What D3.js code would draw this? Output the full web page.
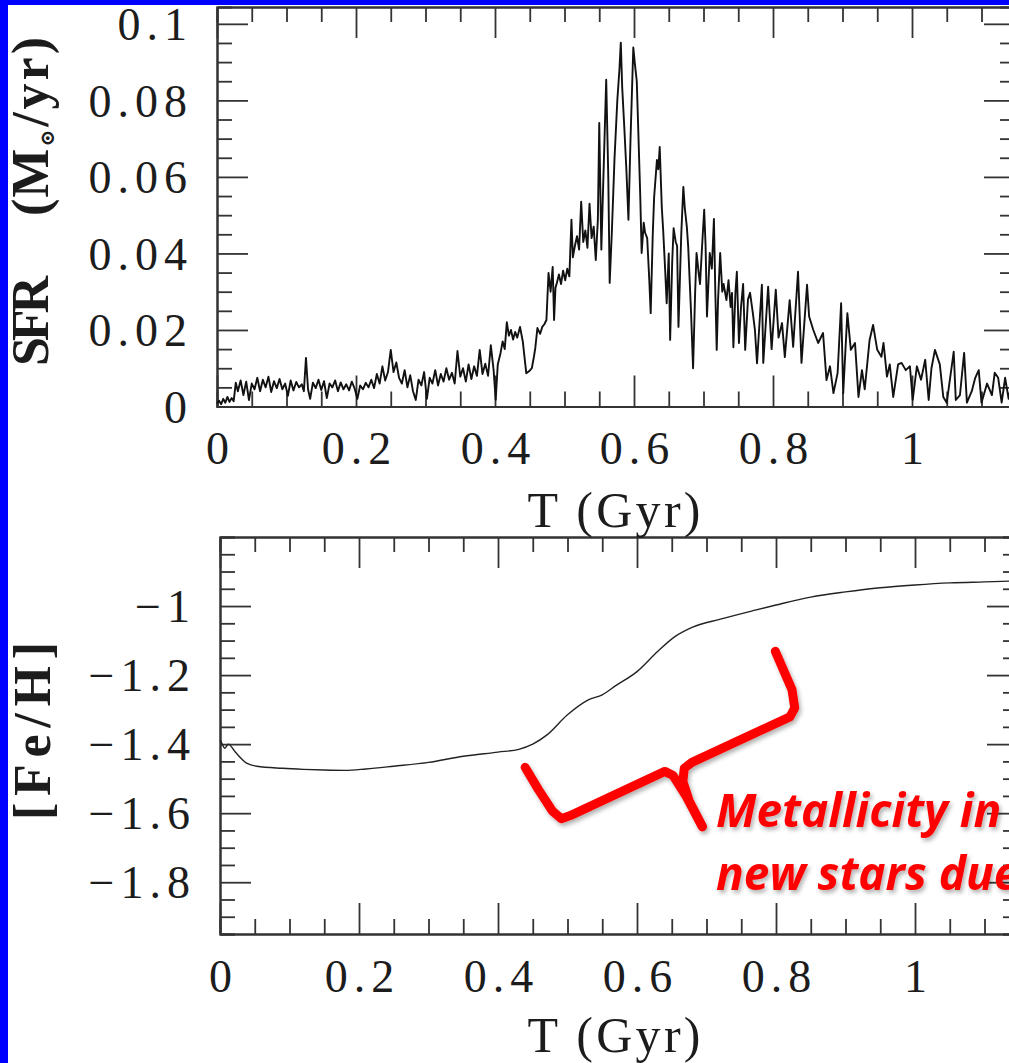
<!DOCTYPE html>
<html>
<head>
<meta charset="utf-8">
<script src="https://cdn.jsdelivr.net/npm/d3@7"></script>
<style>
  html, body { margin: 0; padding: 0; background: #fff; }
  svg { display: block; }
</style>
</head>
<body>
<div id="chart"></div>
<script>
// star formation rate, top panel (T in Gyr, SFR in Msun/yr)
const sfrTime = [
  0.000, 0.003, 0.006, 0.009, 0.012, 0.015, 0.018, 0.021, 0.024,
  0.027, 0.030, 0.034, 0.038, 0.042, 0.046, 0.050, 0.054, 0.058, 0.062, 0.066, 0.070, 0.074, 0.078,
  0.082, 0.086, 0.090, 0.094, 0.098, 0.102, 0.106, 0.110, 0.114, 0.118, 0.122, 0.125, 0.128, 0.131,
  0.134, 0.138, 0.142, 0.146, 0.150, 0.154, 0.158, 0.162, 0.166, 0.170, 0.174, 0.178, 0.182, 0.186,
  0.190, 0.194, 0.198, 0.202, 0.206, 0.210, 0.214, 0.218, 0.222, 0.226, 0.230, 0.234, 0.238, 0.242,
  0.246, 0.250, 0.254, 0.258, 0.262,
  0.266, 0.270, 0.274, 0.278, 0.282, 0.286, 0.290, 0.294, 0.298, 0.302, 0.306, 0.310, 0.314, 0.318,
  0.322, 0.326, 0.330, 0.334, 0.338, 0.342, 0.346, 0.350, 0.354, 0.358, 0.362, 0.366, 0.370, 0.374,
  0.378, 0.382, 0.386, 0.390, 0.394, 0.398, 0.401,
  0.404, 0.408, 0.411, 0.414, 0.417, 0.420, 0.423, 0.426, 0.429, 0.432, 0.436, 0.440, 0.443, 0.445,
  0.449, 0.453, 0.456, 0.458, 0.461, 0.465, 0.468, 0.471, 0.474, 0.477, 0.480, 0.483, 0.485, 0.487,
  0.489, 0.492, 0.495, 0.498, 0.501, 0.504, 0.507, 0.510, 0.512, 0.515, 0.518, 0.521, 0.524, 0.527,
  0.530, 0.533, 0.536, 0.539, 0.542, 0.545, 0.548, 0.550, 0.553, 0.556, 0.560, 0.563, 0.565, 0.568,
  0.572, 0.576, 0.579, 0.581, 0.583, 0.586, 0.589, 0.592, 0.595, 0.599, 0.601, 0.604, 0.606, 0.609,
  0.611, 0.614, 0.616, 0.619, 0.622, 0.624, 0.627, 0.629, 0.633, 0.635, 0.637, 0.640, 0.642, 0.645,
  0.647, 0.650, 0.652, 0.655, 0.657, 0.660, 0.662, 0.664, 0.668, 0.671, 0.673, 0.676, 0.678, 0.682,
  0.685, 0.688, 0.690, 0.693, 0.695, 0.698, 0.701, 0.703, 0.705, 0.709, 0.712, 0.715, 0.717, 0.719,
  0.721, 0.724, 0.727, 0.729, 0.733, 0.736, 0.739, 0.741, 0.743, 0.746, 0.748, 0.751, 0.754, 0.757,
  0.760, 0.764, 0.767, 0.771, 0.774, 0.777, 0.784, 0.786, 0.793, 0.798, 0.804, 0.808, 0.813, 0.817,
  0.824, 0.829, 0.836, 0.841, 0.849, 0.852, 0.858, 0.865, 0.872, 0.877, 0.882, 0.887, 0.893, 0.898,
  0.901, 0.907, 0.912, 0.918, 0.923, 0.928, 0.932, 0.939, 0.944, 0.950, 0.956, 0.959, 0.964, 0.968,
  0.973, 0.980, 0.985, 0.991, 0.997, 1.001, 1.007, 1.013, 1.019, 1.024, 1.028, 1.033, 1.040, 1.045,
  1.050, 1.060, 1.063, 1.069, 1.075, 1.079, 1.086, 1.091, 1.096, 1.100, 1.108, 1.115, 1.119, 1.124,
  1.129, 1.134, 1.139, 1.143, 1.148
]
const sfrRate = [
  0.0008, 0.0015, 0.0006, 0.0020, 0.0010, 0.0025, 0.0012, 0.0022, 0.0014,
  0.0062, 0.0040, 0.0068, 0.0030, 0.0065, 0.0017, 0.0060, 0.0045, 0.0075, 0.0040, 0.0070, 0.0050, 0.0078, 0.0038,
  0.0066, 0.0048, 0.0072, 0.0045, 0.0060, 0.0028, 0.0068, 0.0042, 0.0064, 0.0050, 0.0058, 0.0040, 0.0127, 0.0045,
  0.0020, 0.0062, 0.0048, 0.0070, 0.0043, 0.0066, 0.0022, 0.0060, 0.0050, 0.0068, 0.0040, 0.0063, 0.0045, 0.0058,
  0.0042, 0.0065, 0.0047, 0.0020, 0.0055, 0.0045, 0.0062, 0.0050, 0.0070, 0.0048, 0.0085, 0.0060, 0.0105, 0.0068,
  0.0090, 0.0148, 0.0090, 0.0115, 0.0075,
  0.0060, 0.0095, 0.0050, 0.0082, 0.0040, 0.0017, 0.0070, 0.0055, 0.0090, 0.0020, 0.0075, 0.0060, 0.0095, 0.0055,
  0.0085, 0.0065, 0.0100, 0.0070, 0.0088, 0.0060, 0.0145, 0.0078, 0.0100, 0.0065, 0.0110, 0.0072, 0.0105, 0.0080,
  0.0148, 0.0085, 0.0112, 0.0080, 0.0160, 0.0095, 0.0018,
  0.0110, 0.0140, 0.0170, 0.0150, 0.0220, 0.0185, 0.0200, 0.0175, 0.0195, 0.0180, 0.0208, 0.0170, 0.0120, 0.0087,
  0.0092, 0.0100, 0.0130, 0.0153, 0.0205, 0.0190, 0.0208, 0.0215, 0.0226, 0.0349, 0.0300, 0.0365, 0.0226, 0.0310,
  0.0323, 0.0345, 0.0320, 0.0355, 0.0330, 0.0360, 0.0340, 0.0488, 0.0390, 0.0420, 0.0445, 0.0410, 0.0535, 0.0430,
  0.0460, 0.0415, 0.0530, 0.0440, 0.0470, 0.0383, 0.0488, 0.0741, 0.0410, 0.0600, 0.0854, 0.0600, 0.0323, 0.0450,
  0.0650, 0.0800, 0.0880, 0.0951, 0.0835, 0.0731, 0.0620, 0.0488, 0.0700, 0.0938, 0.0900, 0.0850, 0.0731, 0.0550,
  0.0401, 0.0480, 0.0454, 0.0440, 0.0330, 0.0244, 0.0450, 0.0548, 0.0644, 0.0620, 0.0678, 0.0520, 0.0460, 0.0350,
  0.0270, 0.0400, 0.0174, 0.0380, 0.0466, 0.0430, 0.0420, 0.0208, 0.0450, 0.0574, 0.0520, 0.0470, 0.0417, 0.0250,
  0.0100, 0.0300, 0.0401, 0.0350, 0.0320, 0.0420, 0.0514, 0.0420, 0.0235, 0.0401, 0.0360, 0.0490, 0.0300, 0.0148,
  0.0280, 0.0401, 0.0300, 0.0320, 0.0278, 0.0330, 0.0260, 0.0297, 0.0155, 0.0300, 0.0352, 0.0166, 0.0260, 0.0320,
  0.0148, 0.0280, 0.0297, 0.0244, 0.0200, 0.0113, 0.0318, 0.0114, 0.0313, 0.0150, 0.0305, 0.0180, 0.0218, 0.0129,
  0.0278, 0.0156, 0.0352, 0.0114, 0.0318, 0.0235, 0.0200, 0.0166, 0.0192, 0.0069, 0.0105, 0.0035, 0.0088, 0.0270,
  0.0035, 0.0244, 0.0148, 0.0166, 0.0025, 0.0095, 0.0045, 0.0174, 0.0213, 0.0148, 0.0130, 0.0166, 0.0078, 0.0110,
  0.0025, 0.0110, 0.0114, 0.0095, 0.0105, 0.0017, 0.0105, 0.0070, 0.0122, 0.0017, 0.0100, 0.0148, 0.0110, 0.0025,
  0.0010, 0.0143, 0.0017, 0.0030, 0.0140, 0.0010, 0.0040, 0.0075, 0.0095, 0.0010, 0.0060, 0.0030, 0.0088, 0.0075,
  0.0010, 0.0075, 0.0020, 0.0060, 0.0030
]

// metallicity, bottom panel
const fehTime = [0, 0.002, 0.007, 0.012, 0.022, 0.039, 0.053, 0.09, 0.12, 0.15, 0.18, 0.21, 0.25, 0.3, 0.35, 0.4,
  0.43, 0.45, 0.47, 0.5, 0.53, 0.55, 0.57, 0.6, 0.63, 0.655, 0.68, 0.72, 0.77, 0.8, 0.85, 0.9, 0.95, 1.0, 1.05, 1.1, 1.15]
const fehValue = [-1.388, -1.395, -1.412, -1.400, -1.423, -1.456, -1.464, -1.470, -1.473, -1.475, -1.476, -1.472,
  -1.464, -1.453, -1.435, -1.423, -1.415, -1.400, -1.374, -1.315, -1.272, -1.257, -1.230, -1.190, -1.131, -1.088,
  -1.061, -1.038, -1.012, -0.997, -0.974, -0.959, -0.947, -0.939, -0.933, -0.930, -0.927]

// ticks and labels
const tMajor = [0, 0.2, 0.4, 0.6, 0.8, 1]
const tLabels = ['0', '0.2', '0.4', '0.6', '0.8', '1']
const sfrMajor = [0, 0.02, 0.04, 0.06, 0.08, 0.1]
const sfrLabels = ['0', '0.02', '0.04', '0.06', '0.08', '0.1']
const fehMajor = [-1.8, -1.6, -1.4, -1.2, -1]
const fehLabels = ['\u22121.8', '\u22121.6', '\u22121.4', '\u22121.2', '\u22121']

// annotation brace, in bottom panel data units
const braceArm1T = [0.439, 0.458, 0.478, 0.491, 0.504, 0.640, 0.652, 0.671, 0.694]
const braceArm1V = [-1.467, -1.531, -1.593, -1.616, -1.607, -1.479, -1.491, -1.552, -1.639]
const braceArm2T = [0.694, 0.675, 0.666, 0.668, 0.679, 0.820, 0.827, 0.823, 0.799]
const braceArm2V = [-1.639, -1.564, -1.508, -1.470, -1.453, -1.321, -1.295, -1.242, -1.131]
const noteLines = ['Metallicity in', 'new stars due']

const width = 1009
const height = 1063
const serif = '"Liberation Serif", "Times New Roman", serif'
const ink = '#1c1c1c'

const svg = d3.select('#chart').append('svg')
  .attr('width', width)
  .attr('height', height)

svg.append('rect').attr('width', width).attr('height', height).attr('fill', '#fff')

const defs = svg.append('defs')
defs.append('filter').attr('id', 'shadow')
  .attr('x', '-10%').attr('y', '-10%').attr('width', '130%').attr('height', '130%')
  .append('feDropShadow')
  .attr('dx', 2).attr('dy', 3).attr('stdDeviation', 2)
  .attr('flood-color', '#000').attr('flood-opacity', 0.3)

const topBox = { left: 217, right: 1015, top: 7, bottom: 406.5 }
const botBox = { left: 220, right: 1018, top: 537, bottom: 934 }
const pxPerGyr = 695

const xTop = d3.scaleLinear()
  .domain([0, (topBox.right - topBox.left) / pxPerGyr])
  .range([topBox.left, topBox.right])
const yTop = d3.scaleLinear().domain([0, 0.1044]).range([topBox.bottom, topBox.top])

const xBot = d3.scaleLinear()
  .domain([0, (botBox.right - botBox.left) / pxPerGyr])
  .range([botBox.left, botBox.right])
const yBot = d3.scaleLinear().domain([-1.95, -0.8]).range([botBox.bottom, botBox.top])

const minors = (lo, hi, step, major) => d3.range(lo, hi + 1e-9, step)
  .map(v => +v.toFixed(4))
  .filter(v => !major.some(m => Math.abs(m - v) < 1e-6))

function styleAxis (g) {
  g.attr('font-family', serif).attr('font-size', 46)
  g.selectAll('line').attr('stroke', '#333').attr('stroke-width', 1.8)
  g.selectAll('.domain').attr('stroke', '#333').attr('stroke-width', 2)
  g.selectAll('text').attr('fill', ink).attr('letter-spacing', 6)
}

function frame (x, y, xMajor, xLab, yMajor, yLab, yMinorStep) {
  const [x0, x1] = x.range()
  const [y0, y1] = y.range()
  const xMinor = minors(0, x.domain()[1], 0.05, xMajor)
  const yMinor = minors(y.domain()[0], y.domain()[1], yMinorStep, yMajor)

  // bottom with labels
  svg.append('g')
    .attr('transform', `translate(0,${y0})`)
    .call(d3.axisBottom(x).tickValues(xMajor).tickSizeInner(-31).tickSizeOuter(0).tickPadding(25)
      .tickFormat((d, i) => xLab[i]))
    .call(styleAxis)
    .call(g => g.selectAll('text').attr('dx', 3))
  svg.append('g')
    .attr('transform', `translate(0,${y0})`)
    .call(d3.axisBottom(x).tickValues(xMinor).tickSize(-15).tickFormat(''))
    .call(styleAxis)
  // top
  svg.append('g')
    .attr('transform', `translate(0,${y1})`)
    .call(d3.axisTop(x).tickValues(xMajor).tickSizeInner(-31).tickSizeOuter(0).tickFormat(''))
    .call(styleAxis)
  svg.append('g')
    .attr('transform', `translate(0,${y1})`)
    .call(d3.axisTop(x).tickValues(xMinor).tickSize(-15).tickFormat(''))
    .call(styleAxis)
  // left with labels
  svg.append('g')
    .attr('transform', `translate(${x0},0)`)
    .call(d3.axisLeft(y).tickValues(yMajor).tickSizeInner(-31).tickSizeOuter(0).tickPadding(24)
      .tickFormat((d, i) => yLab[i]))
    .call(styleAxis)
    .call(g => g.selectAll('text').attr('dy', '0.34em'))
  svg.append('g')
    .attr('transform', `translate(${x0},0)`)
    .call(d3.axisLeft(y).tickValues(yMinor).tickSize(-15).tickFormat(''))
    .call(styleAxis)
  // right
  svg.append('g')
    .attr('transform', `translate(${x1},0)`)
    .call(d3.axisRight(y).tickValues(yMajor).tickSizeInner(-31).tickSizeOuter(0).tickFormat(''))
    .call(styleAxis)
  svg.append('g')
    .attr('transform', `translate(${x1},0)`)
    .call(d3.axisRight(y).tickValues(yMinor).tickSize(-15).tickFormat(''))
    .call(styleAxis)
}

frame(xTop, yTop, tMajor, tLabels, sfrMajor, sfrLabels, 0.005)
frame(xBot, yBot, tMajor, tLabels, fehMajor, fehLabels, 0.05)

// SFR curve
const sfrLine = d3.line()
  .x((d, i) => xTop(sfrTime[i]))
  .y(d => yTop(d))
svg.append('path')
  .datum(sfrRate)
  .attr('d', sfrLine)
  .attr('fill', 'none')
  .attr('stroke', '#111')
  .attr('stroke-width', 1.9)
  .attr('stroke-linejoin', 'round')

// [Fe/H] curve
const fehLine = d3.line()
  .x((d, i) => xBot(fehTime[i]))
  .y(d => yBot(d))
  .curve(d3.curveMonotoneX)
svg.append('path')
  .datum(fehValue)
  .attr('d', fehLine)
  .attr('fill', 'none')
  .attr('stroke', '#222')
  .attr('stroke-width', 1.4)

// axis titles
const xTitle = (yBase) => svg.append('text')
  .attr('x', 614)
  .attr('y', yBase)
  .attr('text-anchor', 'middle')
  .attr('font-family', serif)
  .attr('font-size', 50)
  .attr('fill', ink)
  .attr('textLength', 173)
  .attr('lengthAdjust', 'spacing')
  .text('T (Gyr)')
xTitle(527)
xTitle(1052)

const sfrTitle = svg.append('g')
  .attr('transform', 'translate(48,366) rotate(-90)')
  .attr('font-family', serif)
  .attr('font-weight', 'bold')
  .attr('font-size', 52)
  .attr('fill', ink)
sfrTitle.append('text').attr('x', 0).attr('textLength', 90).attr('lengthAdjust', 'spacing').text('SFR')
const unit = sfrTitle.append('text').attr('x', 150)
unit.append('tspan').attr('letter-spacing', 1).text('(M')
unit.append('tspan').attr('font-size', 20).attr('dy', 6).attr('dx', 1)
  .attr('font-family', '"DejaVu Serif", serif').text('\u2299')
unit.append('tspan').attr('dy', -6).attr('dx', 3).attr('letter-spacing', 3).text('/yr)')

svg.append('text')
  .attr('transform', 'translate(50,820) rotate(-90)')
  .attr('font-family', serif)
  .attr('font-weight', 'bold')
  .attr('font-size', 52)
  .attr('fill', ink)
  .attr('textLength', 178)
  .attr('lengthAdjust', 'spacing')
  .text('[Fe/H]')

// red annotation
const note = svg.append('g').attr('filter', 'url(#shadow)')
const braceLine = (ts) => d3.line()
  .x((d, i) => xBot(ts[i]))
  .y(d => yBot(d))
;[[braceArm1T, braceArm1V], [braceArm2T, braceArm2V]].forEach(([ts, vs]) => {
  note.append('path')
    .datum(vs)
    .attr('d', braceLine(ts))
    .attr('fill', 'none')
    .attr('stroke', '#ff0000')
    .attr('stroke-width', 9)
    .attr('stroke-linejoin', 'round')
    .attr('stroke-linecap', 'round')
})

note.append('g')
  .attr('font-family', '"Open Sans", Lato, sans-serif')
  .attr('font-weight', 'bold')
  .attr('font-style', 'italic')
  .attr('font-size', 46)
  .attr('fill', '#ff0000')
  .selectAll('text')
  .data(noteLines)
  .join('text')
  .attr('x', 716)
  .attr('y', (d, i) => 827 + i * 63)
  .text(d => d)

// blue slide border
svg.append('rect').attr('x', 0).attr('y', 0).attr('width', 8).attr('height', height).attr('fill', '#0000ff')
svg.append('rect').attr('x', 0).attr('y', 0).attr('width', width).attr('height', 5).attr('fill', '#0000ff')
</script>
</body>
</html>
